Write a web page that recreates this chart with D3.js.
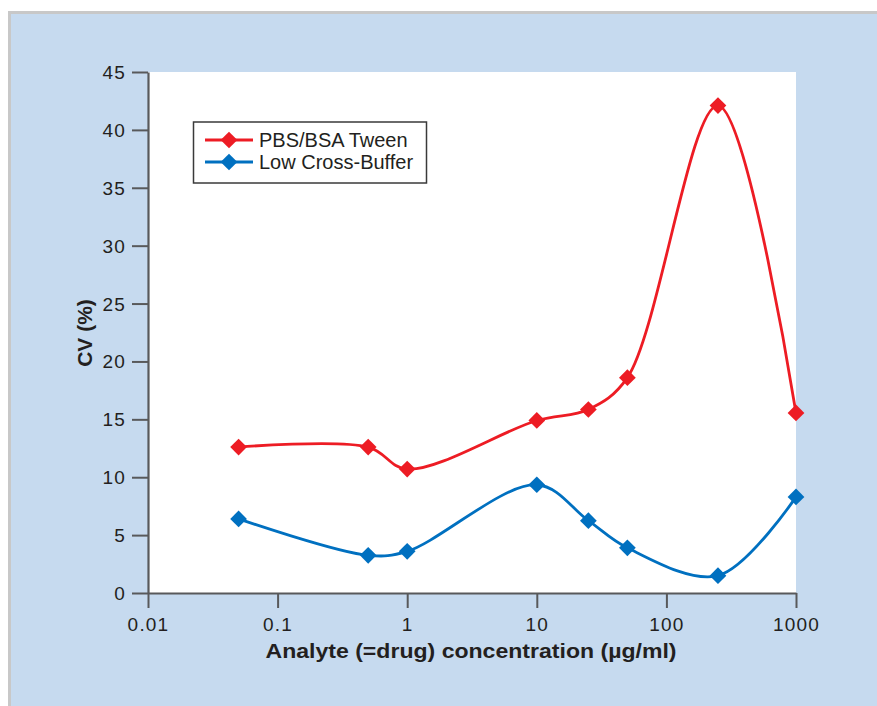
<!DOCTYPE html>
<html>
<head>
<meta charset="utf-8">
<script src="https://cdn.jsdelivr.net/npm/d3@7"></script>
<style>
  html, body { margin: 0; padding: 0; background: #ffffff; }
  svg { display: block; }
  text { font-family: "Liberation Sans", Arial, sans-serif; fill: #231f20; }
</style>
</head>
<body>
<svg id="chart" width="877" height="706"></svg>
<script>
// ---- data ----
const concentrations = [0.05, 0.5, 1, 10, 25, 50, 250, 1000];
const pbsBsaTween = [12.6, 12.6, 10.7, 14.9, 15.85, 18.6, 42.1, 15.55];
const lowCrossBuffer = [6.4, 3.25, 3.6, 9.35, 6.25, 3.9, 1.5, 8.3];
const seriesNames = ["PBS/BSA Tween", "Low Cross-Buffer"];
const seriesColors = ["#ed1c24", "#0070c0"];
const xTickValues = [0.01, 0.1, 1, 10, 100, 1000];
const xTickLabels = ["0.01", "0.1", "1", "10", "100", "1000"];
const yTickValues = [0, 5, 10, 15, 20, 25, 30, 35, 40, 45];
const xTitle = "Analyte (=drug) concentration (\u00b5g/ml)";
const yTitle = "CV (%)";

// ---- layout ----
const svg = d3.select("#chart");
const W = 877, H = 706;
const plot = { left: 148, right: 796, top: 72, bottom: 593 };

// frame
svg.append("rect").attr("x", 8).attr("y", 11).attr("width", W - 8).attr("height", H - 11).attr("fill", "#c8c8c8");
svg.append("rect").attr("x", 11).attr("y", 14).attr("width", W - 11).attr("height", H - 14).attr("fill", "#c6daef");

// plot area
svg.append("rect")
  .attr("x", plot.left).attr("y", plot.top)
  .attr("width", plot.right - plot.left).attr("height", plot.bottom - plot.top)
  .attr("fill", "#ffffff");

const x = d3.scaleLog().domain([0.01, 1000]).range([plot.left, plot.right]);
const y = d3.scaleLinear().domain([0, 45]).range([plot.bottom, plot.top]);

// axes
const axisColor = "#58595b";
const xAxis = d3.axisBottom(x).tickValues(xTickValues)
  .tickFormat((d, i) => xTickLabels[i]).tickSize(15).tickSizeOuter(0).tickPadding(5);
const gx = svg.append("g").attr("transform", `translate(0,${plot.bottom})`).call(xAxis);
const yAxis = d3.axisLeft(y).tickValues(yTickValues).tickSize(16).tickSizeOuter(0).tickPadding(6);
const gy = svg.append("g").attr("transform", `translate(${plot.left},0)`).call(yAxis);

[gx, gy].forEach(g => {
  g.select(".domain").attr("stroke", axisColor).attr("stroke-width", 2.2);
  g.selectAll(".tick line").attr("stroke", axisColor).attr("stroke-width", 2);
  g.selectAll(".tick text")
    .style("font-family", '"Liberation Sans", Arial, sans-serif')
    .style("font-size", "19px").style("letter-spacing", "1.2px")
    .attr("fill", "#231f20");
});
gx.selectAll(".tick text").attr("dy", "0.95em");
gy.selectAll(".tick text").attr("dy", "0.34em");

// titles
svg.append("text")
  .attr("x", (plot.left + plot.right) / 2 - 1).attr("y", 658)
  .attr("text-anchor", "middle")
  .attr("textLength", 411).attr("lengthAdjust", "spacingAndGlyphs")
  .style("font-size", "21px").style("font-weight", "bold")
  .text(xTitle);
svg.append("text")
  .attr("transform", `translate(92,333) rotate(-90)`)
  .attr("text-anchor", "middle")
  .style("font-size", "21px").style("font-weight", "bold")
  .text(yTitle);

// series
const seriesData = [pbsBsaTween, lowCrossBuffer];
const line = d3.line()
  .x(d => x(d[0])).y(d => y(d[1]))
  .curve(d3.curveCatmullRom.alpha(0.5));
const diamond = d3.symbol().type(d3.symbolSquare).size(140);

seriesData.forEach((vals, si) => {
  const pts = concentrations.map((c, i) => [c, vals[i]]);
  svg.append("path").datum(pts)
    .attr("d", line)
    .attr("fill", "none")
    .attr("stroke", seriesColors[si])
    .attr("stroke-width", 2.8);
  svg.append("g").selectAll("path").data(pts).join("path")
    .attr("d", diamond)
    .attr("transform", d => `translate(${x(d[0])},${y(d[1])}) rotate(45)`)
    .attr("fill", seriesColors[si]);
});

// legend
const lg = svg.append("g");
lg.append("rect").attr("x", 193.5).attr("y", 122).attr("width", 233).attr("height", 61)
  .attr("fill", "#ffffff").attr("stroke", "#3a3a3a").attr("stroke-width", 1.5);
seriesNames.forEach((name, i) => {
  const ly = 140 + i * 22;
  lg.append("line").attr("x1", 205).attr("x2", 253).attr("y1", ly).attr("y2", ly)
    .attr("stroke", seriesColors[i]).attr("stroke-width", 2.8);
  lg.append("path").attr("d", diamond)
    .attr("transform", `translate(229,${ly}) rotate(45)`)
    .attr("fill", seriesColors[i]);
  lg.append("text").attr("x", 259).attr("y", ly).attr("dy", "0.35em")
    .style("font-size", "20px")
    .text(name);
});
</script>
</body>
</html>
